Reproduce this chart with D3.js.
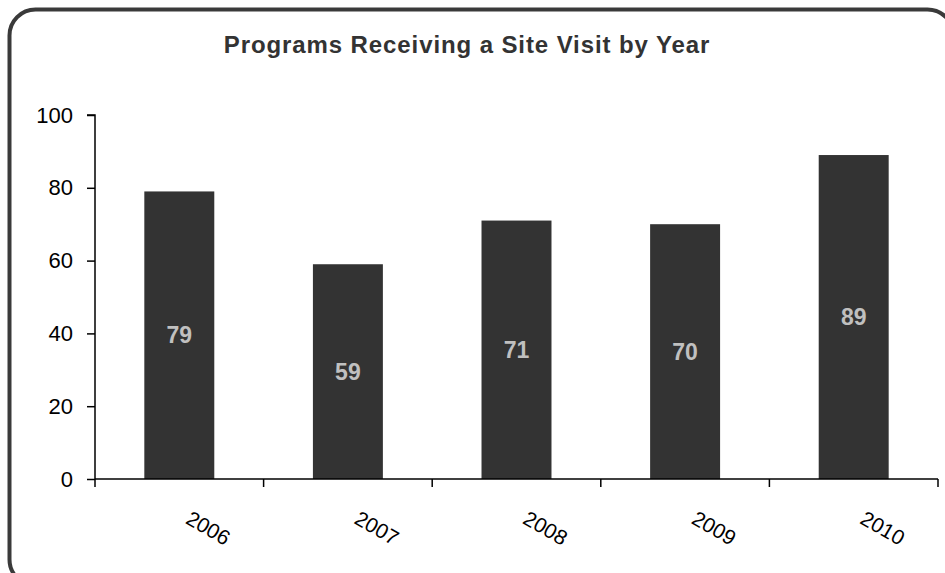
<!DOCTYPE html>
<html>
<head>
<meta charset="utf-8">
<script src="https://cdn.jsdelivr.net/npm/d3@7"></script>
<style>
  body { margin: 0; background: #fff; }
  svg { display: block; font-family: "Liberation Sans", Arial, sans-serif; }
</style>
</head>
<body>
<script>
const years = ['2006', '2007', '2008', '2009', '2010'];
const visits = [79, 59, 71, 70, 89];
const yTicks = [0, 20, 40, 60, 80, 100];
const title = 'Programs Receiving a Site Visit by Year';

const width = 945, height = 573;
const margin = { top: 115, right: 7, bottom: 94, left: 95 };
const font = '"Liberation Sans", Arial, sans-serif';

const svg = d3.select('body').append('svg')
  .attr('width', width)
  .attr('height', height);

// rounded frame, runs a little off the right/bottom edge
svg.append('rect')
  .attr('x', 9.5).attr('y', 9.5)
  .attr('width', 944).attr('height', 576)
  .attr('rx', 26).attr('ry', 26)
  .attr('fill', 'none')
  .attr('stroke', '#3a3a3a')
  .attr('stroke-width', 4);

svg.append('text')
  .attr('x', 467).attr('y', 53)
  .attr('text-anchor', 'middle')
  .attr('font-size', 24)
  .attr('font-weight', 'bold')
  .attr('fill', '#333')
  .style('letter-spacing', '0.9px')
  .text(title);

const x = d3.scaleBand()
  .domain(years)
  .range([margin.left, width - margin.right])
  .paddingInner(0.585)
  .paddingOuter(0.2925);

const y = d3.scaleLinear()
  .domain([0, 100])
  .range([height - margin.bottom, margin.top]);

const g = svg.append('g');

g.selectAll('rect.bar')
  .data(visits)
  .join('rect')
  .attr('class', 'bar')
  .attr('x', (d, i) => x(years[i]))
  .attr('y', d => y(d))
  .attr('width', x.bandwidth())
  .attr('height', d => y(0) - y(d))
  .attr('fill', '#333333');

g.selectAll('text.val')
  .data(visits)
  .join('text')
  .attr('class', 'val')
  .attr('x', (d, i) => x(years[i]) + x.bandwidth() / 2)
  .attr('y', d => (y(0) + y(d)) / 2)
  .attr('dy', '0.35em')
  .attr('text-anchor', 'middle')
  .attr('font-size', 23)
  .attr('font-weight', 'bold')
  .attr('fill', '#c0c0c0')
  .text(d => d);

// y axis
const yAxis = d3.axisLeft(y).tickValues(yTicks).tickSize(8).tickPadding(14);
const yg = svg.append('g')
  .attr('transform', `translate(${margin.left},0)`)
  .call(yAxis)
  .attr('font-size', 22)
  .attr('font-family', font);
yg.select('.domain').attr('d', `M-8,${y(100)}H0V${y(0)}`).attr('stroke', '#000').attr('stroke-width', 1.5);
yg.selectAll('.tick line').attr('stroke', '#000').attr('stroke-width', 1.5);
yg.selectAll('.tick text').attr('fill', '#000');

// x axis with ticks at band boundaries
const xg = svg.append('g')
  .attr('transform', `translate(0,${y(0)})`);
xg.append('line')
  .attr('x1', margin.left).attr('x2', width - margin.right)
  .attr('stroke', '#000').attr('stroke-width', 1.5);
const step = x.step();
const bounds = years.map(yr => x(yr) - x.paddingInner() * step / 2).concat([width - margin.right]);
xg.selectAll('line.tk')
  .data(bounds)
  .join('line')
  .attr('class', 'tk')
  .attr('x1', d => d).attr('x2', d => d)
  .attr('y1', 0).attr('y2', 8)
  .attr('stroke', '#000').attr('stroke-width', 1.5);

xg.selectAll('text.lbl')
  .data(years)
  .join('text')
  .attr('class', 'lbl')
  .attr('transform', d => `translate(${x(d) + x.bandwidth() / 2 + 29},49) rotate(30)`)
  .attr('dy', '0.35em')
  .attr('text-anchor', 'middle')
  .attr('font-size', 21)
  .attr('fill', '#000')
  .text(d => d);
</script>
</body>
</html>
